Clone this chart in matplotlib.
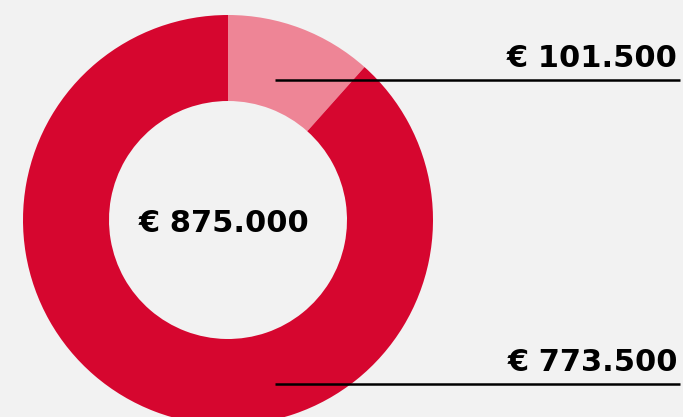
import matplotlib
matplotlib.use("Agg")
import matplotlib.pyplot as plt

values = [101500, 773500]
labels = ["€ 101.500", "€ 773.500"]
total_label = "€ 875.000"
colors = ["#ee8596", "#d6062f"]

W, H = 683, 417
fig = plt.figure(figsize=(W / 100, H / 100), dpi=100)
fig.patch.set_facecolor("#f2f2f2")
ax = fig.add_axes([0, 0, 1, 1])
ax.set_facecolor("#f2f2f2")

cx, cy = 228, H - 220
r_out, r_in = 205, 119
ax.pie(values, colors=colors, startangle=90, counterclock=False,
       center=(cx, cy), radius=r_out, frame=True,
       wedgeprops=dict(width=r_out - r_in, linewidth=0))

ax.set_xlim(0, W)
ax.set_ylim(0, H)
ax.set_aspect("equal")
ax.axis("off")

ax.text(cx - 4, cy - 3, total_label, ha="center", va="center",
        fontsize=22, fontweight="bold", color="black")

line_y = [H - 80, H - 384]
for lbl, ly in zip(labels, line_y):
    ax.plot([275, 680], [ly, ly], color="black", linewidth=1.8, solid_capstyle="butt")
    ax.text(678, ly + 13, lbl, ha="right", va="baseline",
            fontsize=22, fontweight="bold", color="black")

fig.savefig("out.png", dpi=100, facecolor=fig.get_facecolor())
